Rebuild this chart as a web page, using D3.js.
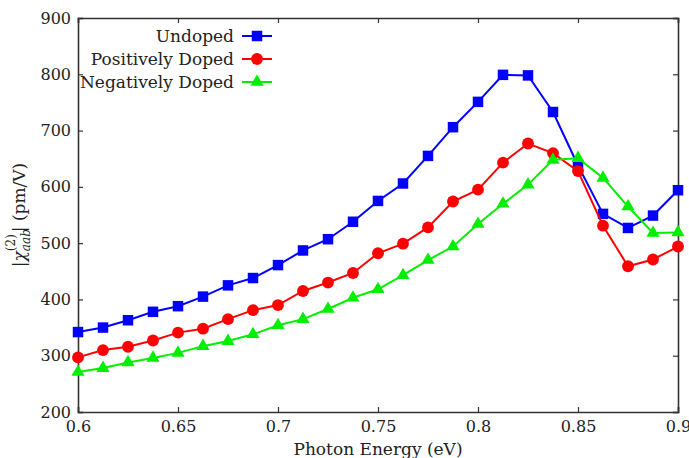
<!DOCTYPE html>
<meta charset="utf-8">
<style>
body { margin: 0; background: #fff; }
.axis path, .axis line { stroke: #333; }
</style>
<svg width="689" height="458" font-family="'DejaVu Serif', serif"></svg>
<script src="https://cdn.jsdelivr.net/npm/d3@7"></script>
<script>

// photon energy, eV
var energy = [0.6, 0.6125, 0.625, 0.6375, 0.65, 0.6625, 0.675, 0.6875, 0.7, 0.7125,
  0.725, 0.7375, 0.75, 0.7625, 0.775, 0.7875, 0.8, 0.8125, 0.825, 0.8375,
  0.85, 0.8625, 0.875, 0.8875, 0.9];

var undoped = [342, 350, 363, 378, 388, 405, 425, 438, 461, 487,
  507, 538, 575, 606, 655, 706, 751, 799, 798, 733,
  638, 552, 527, 549, 594];

var positive = [297, 310, 316, 327, 341, 348, 365, 381, 390, 415,
  430, 447, 482, 499, 528, 574, 595, 643, 677, 660,
  628, 531, 459, 471, 494];

var negative = [271, 278, 288, 296, 305, 317, 326, 338, 354, 365,
  383, 403, 418, 443, 470, 494, 534, 570, 604, 648,
  651, 616, 565, 518, 519];

var xTicks = [0.6, 0.65, 0.7, 0.75, 0.8, 0.85, 0.9];
var yTicks = [200, 300, 400, 500, 600, 700, 800, 900];

var series = [
  { name: "Undoped", values: undoped, color: "#0000ff", shape: d3.symbolSquare },
  { name: "Positively Doped", values: positive, color: "#ff0000", shape: d3.symbolCircle },
  { name: "Negatively Doped", values: negative, color: "#00ee00", shape: d3.symbolTriangle }
];

var serif = "'DejaVu Serif', serif";
var ink = "#222";

var svg = d3.select("svg");
var mLeft = 78, mRight = 678, mTop = 18, mBottom = 412;

var x = d3.scaleLinear().domain([0.6, 0.9]).range([mLeft, mRight]);
var y = d3.scaleLinear().domain([200, 900]).range([mBottom, mTop]);

function fmt(d) { return String(+d.toFixed(2)); }

function styleTicks(g) {
  g.attr("font-family", serif).attr("font-size", 16);
  g.selectAll("text").attr("fill", ink);
}

// axes, ticks pointing inwards on all four sides
svg.append("g").attr("class", "axis")
    .attr("transform", "translate(0," + mBottom + ")")
    .call(d3.axisBottom(x).tickValues(xTicks).tickSize(-5).tickPadding(9).tickFormat(fmt))
    .call(styleTicks);

svg.append("g").attr("class", "axis")
    .attr("transform", "translate(0," + mTop + ")")
    .call(d3.axisTop(x).tickValues(xTicks).tickSize(-5).tickFormat(""));

svg.append("g").attr("class", "axis")
    .attr("transform", "translate(" + mLeft + ",0)")
    .call(d3.axisLeft(y).tickValues(yTicks).tickSize(-5).tickPadding(7))
    .call(styleTicks);

svg.append("g").attr("class", "axis")
    .attr("transform", "translate(" + mRight + ",0)")
    .call(d3.axisRight(y).tickValues(yTicks).tickSize(-5).tickFormat(""));

svg.selectAll(".axis path").attr("stroke-width", 1.6);
svg.selectAll(".axis line").attr("stroke-width", 1.2);

// lines and markers
var line = d3.line()
    .x(function(d, i) { return x(energy[i]); })
    .y(function(d) { return y(d); });

series.forEach(function(s) {
  svg.append("path")
      .datum(s.values)
      .attr("fill", "none")
      .attr("stroke", s.color)
      .attr("stroke-width", 2)
      .attr("d", line);

  svg.append("g").selectAll("path")
      .data(s.values)
      .enter().append("path")
        .attr("transform", function(d, i) { return "translate(" + x(energy[i]) + "," + y(d) + ")"; })
        .attr("d", d3.symbol().type(s.shape).size(s.shape === d3.symbolTriangle ? 75 : 110))
        .attr("fill", s.color);
});

// legend
var legend = svg.append("g").selectAll("g")
    .data(series)
    .enter().append("g")
      .attr("transform", function(d, i) { return "translate(0," + (36 + i * 23) + ")"; });

legend.append("text")
    .attr("x", 234)
    .attr("dy", "0.33em")
    .attr("text-anchor", "end")
    .attr("font-family", serif)
    .attr("font-size", 17)
    .attr("fill", ink)
    .text(function(d) { return d.name; });

legend.append("line")
    .attr("x1", 242).attr("x2", 272)
    .attr("stroke", function(d) { return d.color; })
    .attr("stroke-width", 2);

legend.append("path")
    .attr("transform", "translate(257,0)")
    .attr("d", function(d) { return d3.symbol().type(d.shape).size(d.shape === d3.symbolTriangle ? 75 : 110)(); })
    .attr("fill", function(d) { return d.color; });

// axis titles
svg.append("text")
    .attr("x", (mLeft + mRight) / 2)
    .attr("y", 455)
    .attr("text-anchor", "middle")
    .attr("font-family", serif)
    .attr("font-size", 17)
    .attr("fill", ink)
    .text("Photon Energy (eV)");

var ylab = svg.append("text")
    .attr("transform", "translate(25," + ((mTop + mBottom) / 2) + ") rotate(-90)")
    .attr("text-anchor", "middle")
    .attr("font-family", serif)
    .attr("font-size", 17)
    .attr("fill", ink);
ylab.append("tspan").text("|");
ylab.append("tspan").attr("font-style", "italic").text("χ");
ylab.append("tspan").attr("dy", 5).attr("font-size", 12).attr("font-style", "italic").text("aab");
ylab.append("tspan").attr("dx", -22).attr("dy", -15).attr("font-size", 12).text("(2)");
ylab.append("tspan").attr("dx", 2).attr("dy", 10).text("| (pm/V)");

</script>
